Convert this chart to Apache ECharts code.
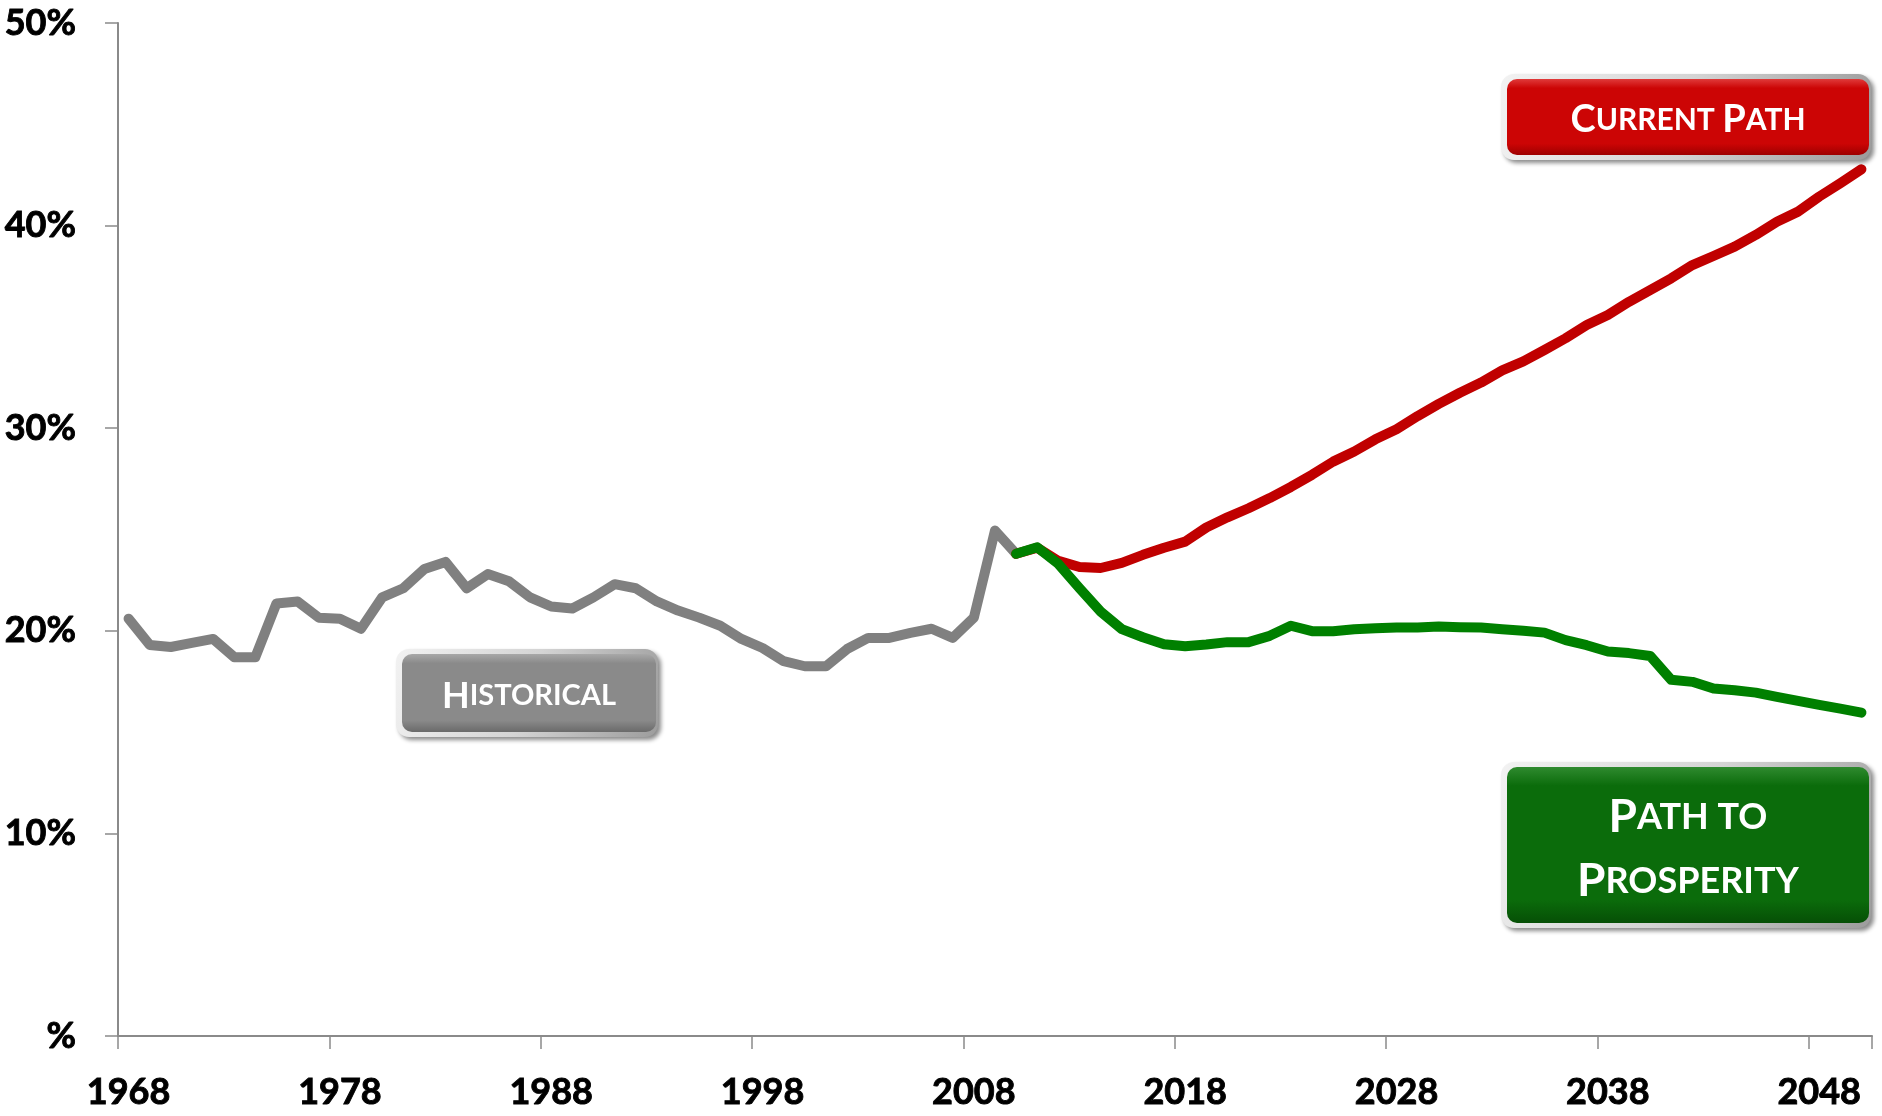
<!DOCTYPE html>
<html>
<head>
<meta charset="utf-8">
<script src="https://cdn.jsdelivr.net/npm/echarts@6/dist/echarts.min.js"></script>
<style>
  html, body { margin: 0; padding: 0; background: #ffffff; }
  #chart { width: 1882px; height: 1116px; }
</style>
</head>
<body>
<div id="chart"></div>
<script>
// Years on the category axis
const years = [
  '1968','1969','1970','1971','1972','1973','1974','1975','1976','1977',
  '1978','1979','1980','1981','1982','1983','1984','1985','1986','1987',
  '1988','1989','1990','1991','1992','1993','1994','1995','1996','1997',
  '1998','1999','2000','2001','2002','2003','2004','2005','2006','2007',
  '2008','2009','2010','2011','2012','2013','2014','2015','2016','2017',
  '2018','2019','2020','2021','2022','2023','2024','2025','2026','2027',
  '2028','2029','2030','2031','2032','2033','2034','2035','2036','2037',
  '2038','2039','2040','2041','2042','2043','2044','2045','2046','2047',
  '2048','2049','2050'
];

// Historical values, 1968-2010 (percent)
const historical = [
  20.6, 19.3, 19.2, 19.4, 19.6, 18.7, 18.7, 21.35, 21.45, 20.65,
  20.6, 20.1, 21.65, 22.1, 23.05, 23.4, 22.1, 22.8, 22.45, 21.65,
  21.2, 21.1, 21.65, 22.3, 22.1, 21.45, 21.0, 20.65, 20.25, 19.6,
  19.15, 18.5, 18.25, 18.25, 19.1, 19.65, 19.65, 19.9, 20.1, 19.65,
  20.65, 24.95, 23.8
];

// Current path projection, 2010-2050 (percent)
const currentPath = [
  23.8, 24.1, 23.45, 23.15, 23.1, 23.35, 23.75, 24.1, 24.4, 25.1,
  25.6, 26.05, 26.55, 27.1, 27.7, 28.35, 28.85, 29.45, 29.95, 30.6,
  31.2, 31.75, 32.25, 32.85, 33.3, 33.86, 34.44, 35.09, 35.59, 36.24,
  36.82, 37.4, 38.05, 38.5, 38.96, 39.54, 40.19, 40.69, 41.43, 42.09,
  42.78
];

// Path to Prosperity projection, 2010-2050 (percent)
const pathToProsperity = [
  23.8, 24.12, 23.3, 22.1, 20.95, 20.08, 19.68, 19.34, 19.24, 19.32,
  19.44, 19.44, 19.75, 20.25, 19.98, 19.98, 20.08, 20.13, 20.16, 20.16,
  20.21, 20.18, 20.16, 20.08, 20.0, 19.91, 19.54, 19.29, 18.98, 18.9,
  18.76, 17.58, 17.48, 17.15, 17.07, 16.95, 16.74, 16.54, 16.34, 16.16,
  15.96
];

// Y-axis tick labels, one per 10 points from 0 to 50
const yTickLabels = ['%', '10%', '20%', '30%', '40%', '50%'];

const projectionStart = years.indexOf('2010');

// Align the series onto the full year axis
function placeFrom(start, values) {
  const out = new Array(years.length).fill(null);
  values.forEach((v, i) => { out[start + i] = v; });
  return out;
}

const FONT = 'Lato, "Open Sans", sans-serif';
const AXIS_GREY = '#8a8a8a';

// Beveled label box with a small-caps style caption
function labelBox(x, y, w, h, fills, text, textY, big, small, lineHeight) {
  return {
    type: 'group',
    children: [
      {
        type: 'rect',
        shape: { x: x, y: y, width: w, height: h, r: 13 },
        style: {
          fill: new echarts.graphic.LinearGradient(0, 0, 1, 1, [
            { offset: 0, color: '#f2f2f2' },
            { offset: 0.5, color: '#d4d4d4' },
            { offset: 1, color: '#9c9c9c' }
          ]),
          shadowBlur: 4,
          shadowOffsetX: 3,
          shadowOffsetY: 3,
          shadowColor: 'rgba(0,0,0,0.45)'
        },
        z: 10
      },
      {
        type: 'rect',
        shape: { x: x + 6, y: y + 5, width: w - 8, height: h - 10, r: 10 },
        style: {
          fill: new echarts.graphic.LinearGradient(0, 0, 0, 1, [
            { offset: 0, color: fills[0] },
            { offset: 0.12, color: fills[1] },
            { offset: 0.85, color: fills[1] },
            { offset: 1, color: fills[2] }
          ])
        },
        z: 11
      },
      {
        type: 'text',
        x: x + 6 + (w - 8) / 2,
        y: textY,
        style: {
          text: text,
          align: 'center',
          verticalAlign: 'middle',
          fill: '#ffffff',
          fontFamily: FONT,
          fontWeight: 'bold',
          fontSize: small,
          lineHeight: lineHeight,
          rich: {
            b: { fontFamily: FONT, fontWeight: 'bold', fontSize: big, fill: '#ffffff', color: '#ffffff', lineHeight: lineHeight },
            s: { fontFamily: FONT, fontWeight: 'bold', fontSize: small, fill: '#ffffff', color: '#ffffff', lineHeight: lineHeight }
          }
        },
        z: 12
      }
    ]
  };
}

const tickFont = {
  color: '#000000',
  fontFamily: FONT,
  fontWeight: 'bold',
  fontSize: 36,
  textBorderColor: '#000000',
  textBorderWidth: 0.9
};

const chart = echarts.init(document.getElementById('chart'), null, { renderer: 'canvas' });

chart.setOption({
  backgroundColor: '#ffffff',
  animation: false,
  grid: { left: 118, right: 10, top: 23, bottom: 80 },
  xAxis: {
    type: 'category',
    data: years,
    boundaryGap: true,
    axisLine: { lineStyle: { color: AXIS_GREY, width: 2 } },
    axisTick: { show: true, interval: 9, length: 13, lineStyle: { color: AXIS_GREY, width: 1.5 } },
    axisLabel: Object.assign({ interval: 9, margin: 38 }, tickFont),
    splitLine: { show: false }
  },
  yAxis: {
    type: 'value',
    min: 0,
    max: 50,
    interval: 10,
    axisLine: { show: true, lineStyle: { color: AXIS_GREY, width: 2 } },
    axisTick: { show: true, length: 13, lineStyle: { color: AXIS_GREY, width: 1.5 } },
    splitLine: { show: false },
    axisLabel: Object.assign({
      margin: 42,
      formatter: function (v) { return yTickLabels[Math.round(v / 10)]; }
    }, tickFont)
  },
  series: [
    {
      name: 'Historical',
      type: 'line',
      data: placeFrom(0, historical),
      symbol: 'none',
      connectNulls: false,
      lineStyle: { color: '#808080', width: 10, cap: 'round', join: 'round' },
      z: 2
    },
    {
      name: 'Current Path',
      type: 'line',
      data: placeFrom(projectionStart, currentPath),
      symbol: 'none',
      connectNulls: false,
      lineStyle: { color: '#c00000', width: 10, cap: 'round', join: 'round' },
      z: 3
    },
    {
      name: 'Path to Prosperity',
      type: 'line',
      data: placeFrom(projectionStart, pathToProsperity),
      symbol: 'none',
      connectNulls: false,
      lineStyle: { color: '#008000', width: 10, cap: 'round', join: 'round' },
      z: 4
    }
  ],
  graphic: [
    labelBox(1501, 74, 370, 86, ['#e03a3a', '#cc0505', '#9e0000'],
      '{b|C}{s|URRENT} {b|P}{s|ATH}', 120, 38, 30, 40),
    labelBox(1501, 762, 370, 166, ['#2f8a2f', '#0b6c0b', '#064f06'],
      '{b|P}{s|ATH TO}\n{b|P}{s|ROSPERITY}', 849, 46, 36, 64),
    labelBox(396, 649, 262, 88, ['#a8a8a8', '#8a8a8a', '#6a6a6a'],
      '{b|H}{s|ISTORICAL}', 696, 36, 29, 40)
  ]
});
</script>
</body>
</html>
